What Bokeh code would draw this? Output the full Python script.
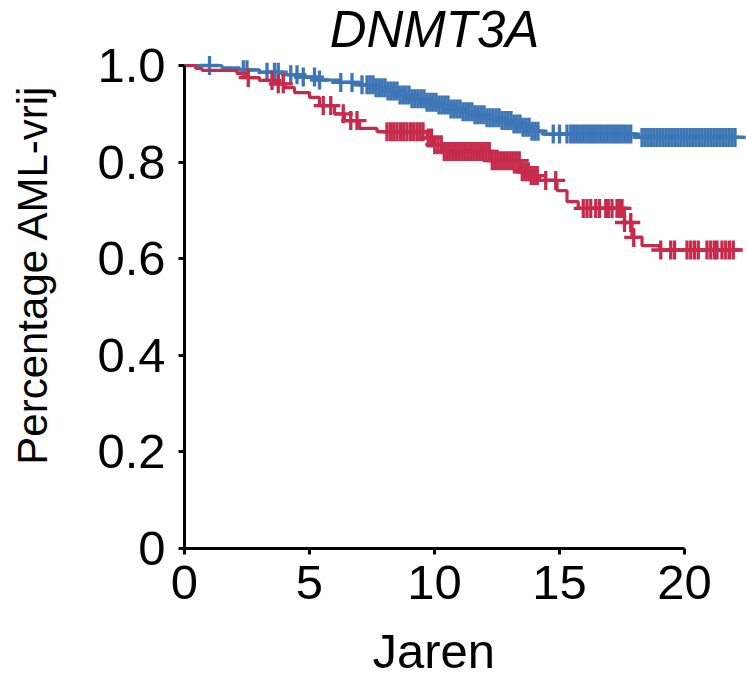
import numpy as np
from bokeh.plotting import figure
from bokeh.models import Range1d, FixedTicker, Label, ColumnDataSource, Title
from bokeh.embed import file_html
from bokeh.resources import INLINE

# ---------------- data ----------------
title_text = "DNMT3A"
x_label = "Jaren"
y_label = "Percentage AML-vrij"

x_ticks = [0, 5, 10, 15, 20]
x_tick_labels = ["0", "5", "10", "15", "20"]
y_ticks = [0, 0.2, 0.4, 0.6, 0.8, 1.0]
y_tick_labels = ["0", "0.2", "0.4", "0.6", "0.8", "1.0"]

# blue group: step times and survival after each step
blue_times = [0, 1.5, 2.2, 3.0, 3.9, 4.6, 5.3, 6.2, 7.0, 7.6, 8.1, 8.6, 9.1, 9.6,
              10.1, 10.6, 11.1, 11.6, 12.1, 12.6, 13.1, 13.5, 13.9, 14.3, 18.1]
blue_surv = [1.0, 0.995, 0.991, 0.986, 0.981, 0.976, 0.970, 0.965, 0.960, 0.954,
             0.947, 0.939, 0.931, 0.924, 0.918, 0.910, 0.904, 0.898, 0.892, 0.886,
             0.879, 0.872, 0.864, 0.858, 0.851]
blue_end = 22.45
blue_censor = [1.0, 2.35, 2.5, 3.3, 3.6, 3.75, 4.25, 4.5, 4.75, 5.2, 5.4, 6.25, 6.7, 7.1,
               7.30, 7.42, 7.54, 7.66, 7.78, 7.90, 8.02, 8.14, 8.26, 8.38, 8.50, 8.62,
               8.74, 8.86, 8.98, 9.10, 9.22, 9.34, 9.46, 9.58, 9.70, 9.82, 9.94, 10.06,
               10.18, 10.30, 10.42, 10.54, 10.66, 10.78, 10.90, 11.02, 11.14, 11.26,
               11.38, 11.50, 11.62, 11.74, 11.86, 11.98, 12.10, 12.22, 12.34, 12.46,
               12.58, 12.70, 12.82, 12.94, 13.06, 13.18, 13.30, 13.42, 13.54, 13.66,
               13.78, 13.90, 14.02, 14.14, 14.75, 15.0, 15.3,
               15.45, 15.57, 15.69, 15.81, 15.93, 16.05, 16.17, 16.29, 16.41, 16.53,
               16.65, 16.77, 16.89, 17.01, 17.13, 17.25, 17.37, 17.49, 17.61, 17.73,
               17.85, 18.30, 18.42, 18.54, 18.66, 18.78, 18.90, 19.02, 19.14, 19.26,
               19.38, 19.50, 19.62, 19.74, 19.86, 19.98, 20.10, 20.22, 20.34, 20.46,
               20.58, 20.70, 20.82, 20.94, 21.06, 21.18, 21.30, 21.42, 21.54, 21.66,
               21.78, 21.90, 22.02]

# red group
red_times = [0, 0.45, 0.7, 2.1, 2.5, 3.0, 3.6, 4.0, 4.4, 5.0, 5.4, 6.0, 6.4, 7.0, 7.7,
             9.7, 10.0, 10.3, 12.25, 13.4, 13.8, 14.2, 14.9, 15.3, 15.75, 17.6, 17.9,
             18.3, 19.0]
red_surv = [1.0, 0.994, 0.990, 0.983, 0.975, 0.969, 0.962, 0.954, 0.944, 0.934, 0.917,
            0.900, 0.886, 0.870, 0.863, 0.850, 0.836, 0.822, 0.803, 0.780, 0.772, 0.762,
            0.741, 0.718, 0.704, 0.675, 0.644, 0.627, 0.618]
red_end = 22.3
red_censor = [2.55, 3.5, 3.75, 3.95, 5.55, 5.85, 6.35, 6.65, 6.9,
              8.10, 8.24, 8.37, 8.50, 8.64, 8.77, 8.90, 9.04, 9.17, 9.30, 9.42, 9.54,
              9.75, 9.88, 10.01, 10.14, 10.27, 10.39, 10.51, 10.63, 10.75, 10.87,
              10.99, 11.11, 11.23, 11.35, 11.47, 11.59, 11.71, 11.83, 11.95, 12.07,
              12.19, 12.31, 12.43, 12.55, 12.67, 12.79, 12.91, 13.03, 13.15, 13.27,
              13.39, 13.51, 13.63, 13.75, 13.87, 13.99, 14.11, 14.45, 14.85,
              15.95, 16.1, 16.25, 16.45, 16.6, 16.85, 16.95, 17.1, 17.3, 17.4, 17.5,
              17.6, 17.85, 17.97, 19.05, 19.45, 19.6, 20.1, 20.25, 20.4, 20.55, 20.9,
              21.05, 21.2, 21.3, 21.5, 21.65, 21.8, 21.95]

blue_color = "#3D75B5"
red_color = "#C62B4C"
FONT = "Liberation Sans"


def step_source(times, surv, end):
    return ColumnDataSource(dict(x=list(times) + [end], y=list(surv) + [surv[-1]]))


def censor_source(times, surv, cens):
    t = np.asarray(times, dtype=float)
    s = np.asarray(surv, dtype=float)
    c = np.asarray(cens, dtype=float)
    idx = np.searchsorted(t, c, side="right") - 1
    return ColumnDataSource(dict(x=c, y=s[idx]))


p = figure(width=746, height=679,
           x_range=Range1d(0, 22.48), y_range=Range1d(0, 548 / 483),
           output_backend="svg", toolbar_location=None,
           min_border_left=184, min_border_right=0,
           min_border_top=0, min_border_bottom=131)
p.outline_line_color = None
p.grid.visible = False
p.background_fill_color = "white"
p.border_fill_color = "white"

for times, surv, end, cens, col in [
        (blue_times, blue_surv, blue_end, blue_censor, blue_color),
        (red_times, red_surv, red_end, red_censor, red_color)]:
    p.step("x", "y", source=step_source(times, surv, end), mode="after",
           line_color=col, line_width=3.2)
    p.scatter("x", "y", source=censor_source(times, surv, cens), marker="cross",
              size=19, line_color=col, line_width=3.3)

p.xaxis.ticker = FixedTicker(ticks=x_ticks)
p.xaxis.major_label_overrides = dict(zip(x_ticks, x_tick_labels))
p.yaxis.ticker = FixedTicker(ticks=y_ticks)
p.yaxis.major_label_overrides = dict(zip(y_ticks, y_tick_labels))
p.xaxis.bounds = (0, 20)
p.yaxis.bounds = (0, 1)

for ax in (p.xaxis[0], p.yaxis[0]):
    ax.axis_line_width = 3
    ax.axis_line_color = "black"
    ax.major_tick_line_width = 3
    ax.major_tick_line_color = "black"
    ax.major_tick_out = 6
    ax.major_tick_in = 0
    ax.minor_tick_out = 0
    ax.minor_tick_in = 0
    ax.major_label_text_font = FONT
    ax.major_label_text_font_size = "49px"
    ax.major_label_text_color = "black"
p.yaxis.major_label_standoff = 13
p.xaxis.major_label_standoff = 11

p.yaxis.axis_label = y_label
p.yaxis.axis_label_text_font = FONT
p.yaxis.axis_label_text_font_size = "42px"
p.yaxis.axis_label_text_font_style = "normal"
p.yaxis.axis_label_text_color = "black"
p.yaxis.axis_label_standoff = 38

# spacer so that the "Jaren" title sits lower under the axis
p.xaxis.axis_label = " "
p.xaxis.axis_label_text_font_size = "1px"
p.xaxis.axis_label_standoff = 18

p.add_layout(Title(text=x_label, align="left", offset=188, vertical_align="top",
                   standoff=0, text_font=FONT, text_font_size="49px",
                   text_font_style="normal", text_color="black"), "below")

p.add_layout(Label(x=10, y=519.5, x_units="data", y_units="screen", text=title_text,
                   text_font=FONT, text_font_style="italic", text_font_size="51px",
                   text_align="center", text_baseline="middle", text_color="black"))

open("out.html", "w").write(file_html(p, INLINE))
